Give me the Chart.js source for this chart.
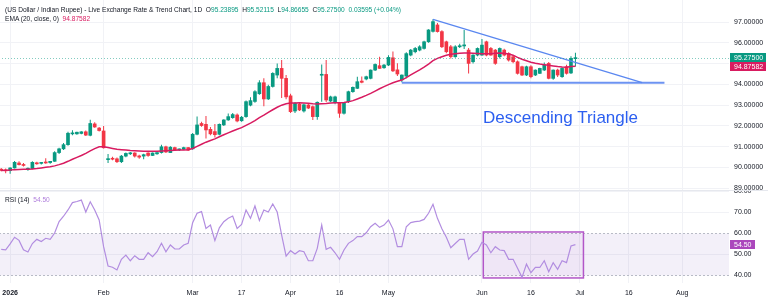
<!DOCTYPE html>
<html>
<head>
<meta charset="utf-8">
<script src="https://cdn.jsdelivr.net/npm/chart.js@4.4.1/dist/chart.umd.min.js"></script>
<style>
  html, body { margin: 0; padding: 0; background: #fff; }
  body { width: 768px; height: 303px; position: relative; overflow: hidden;
         font-family: "Liberation Sans", Arial, sans-serif; color: #131722; }
  .pane { position: absolute; left: -1px; width: 769px; }
  #mainPane { top: 0; height: 190px; }
  #rsiPane { top: 190px; height: 113px; }
  .sep { position: absolute; left: 0; top: 190px; width: 768px; height: 1px; background: #e6e8ee; }
  .legend { position: absolute; left: 5px; font-size: 6.6px; line-height: 9px; white-space: nowrap; }
  .up { color: #089981; }
  .ema { color: #d81b60; }
  .rsi { color: #b07fdc; }
  #pattern { position: absolute; left: 483px; top: 108px; font-size: 17px; line-height: 20px;
             color: #2c5ff0; white-space: nowrap; }
</style>
</head>
<body>
<div class="pane" id="mainPane"><canvas id="mainChart"></canvas></div>
<div class="pane" id="rsiPane"><canvas id="rsiChart"></canvas></div>
<div class="sep"></div>

<div class="legend" style="top:5px">(US Dollar / Indian Rupee) - Live Exchange Rate &amp; Trend Chart, 1D&nbsp;
  O<span class="up">95.23895</span>&nbsp; H<span class="up">95.52115</span>&nbsp; L<span class="up">94.86655</span>&nbsp; C<span class="up">95.27500</span>&nbsp; <span class="up">0.03595 (+0.04%)</span></div>
<div class="legend" style="top:14px">EMA (20, close, 0)&nbsp; <span class="ema">94.87582</span></div>
<div class="legend" style="top:195px">RSI (14)&nbsp; <span class="rsi">54.50</span></div>
<div id="pattern">Descending Triangle</div>

<script>
// Daily candles, 30 Dec 2025 -> 30 Jun 2026 (one per weekday), then empty future slots
const totalSlots = 164;

const opens = [89.92,89.88,89.85,89.98,90.22,90.15,89.92,89.95,90.22,90.20,
  90.25,90.24,90.30,90.72,90.90,91.10,91.62,91.62,91.64,91.72,
  91.55,92.10,91.90,91.76,90.38,90.44,90.42,90.28,90.55,90.66,
  90.70,90.56,90.55,90.70,90.58,90.66,90.72,91.00,90.72,90.96,
  90.85,90.88,90.96,90.90,91.60,92.12,92.08,91.84,91.73,91.60,
  92.05,92.29,92.40,92.53,92.25,92.45,93.00,93.18,93.55,94.08,
  93.30,93.90,94.45,94.77,94.29,93.45,92.72,93.04,92.72,93.01,
  92.93,92.45,94.44,94.48,93.20,93.12,93.09,92.61,93.17,93.65,
  93.81,94.16,94.26,94.29,94.69,94.90,94.80,94.93,95.28,94.70,
  94.22,94.40,95.41,95.57,95.65,95.73,96.05,96.55,96.86,96.54,
  96.05,95.81,95.33,95.81,95.85,95.65,95.09,95.41,95.41,96.05,
  95.73,95.65,95.33,95.65,95.49,95.33,95.09,94.85,94.45,94.85,
  94.45,94.53,94.69,95.01,94.29,94.69,94.37,94.85,94.55,95.23895];

const highs = [89.98,89.95,90.02,90.32,90.30,90.22,90.00,90.30,90.28,90.27,
  90.45,90.32,90.78,90.95,91.18,91.72,91.80,91.72,91.75,91.78,
  92.30,92.18,91.95,92.00,90.65,90.52,90.48,90.60,90.72,90.75,
  90.74,90.62,90.66,90.74,90.72,90.74,91.10,91.05,91.02,91.00,
  90.92,91.00,90.99,91.66,92.45,92.20,92.48,91.95,92.10,92.12,
  92.32,92.60,92.62,92.60,92.48,93.22,93.38,93.72,94.20,94.30,
  93.98,94.58,95.00,95.17,94.45,93.55,93.15,93.12,93.08,93.08,
  92.98,93.18,94.96,95.17,93.45,93.45,93.15,93.12,93.70,93.90,
  94.37,94.38,94.42,94.72,95.00,95.33,94.98,95.40,95.58,95.02,
  94.48,95.55,95.70,95.80,95.88,96.10,96.65,97.13,96.95,96.60,
  96.10,95.90,95.88,95.95,96.62,95.75,95.45,95.78,96.18,96.10,
  95.80,95.70,95.78,95.72,95.55,95.40,95.15,94.90,94.90,94.92,
  94.72,94.80,95.05,95.08,94.72,94.75,94.82,94.95,95.35,95.52115];

const lows = [89.82,89.72,89.70,89.95,90.10,90.05,89.85,89.92,90.14,90.15,
  90.18,90.18,90.28,90.65,90.85,91.05,91.55,91.58,91.60,91.52,
  91.50,91.92,91.74,90.92,90.22,90.35,90.22,90.22,90.50,90.60,
  90.48,90.42,90.40,90.52,90.55,90.62,90.68,90.70,90.70,90.82,
  90.80,90.84,90.80,90.86,91.55,91.96,91.40,91.55,91.45,91.55,
  92.00,92.25,92.35,92.18,92.20,92.40,92.95,93.12,93.50,92.95,
  93.25,93.85,94.30,93.35,93.28,92.62,92.62,92.72,92.65,92.82,
  92.29,92.30,93.17,93.15,93.15,93.05,92.40,92.55,93.10,93.60,
  93.78,94.05,94.20,94.25,94.65,94.75,94.75,94.88,94.60,94.40,
  94.10,94.30,95.35,95.50,95.60,95.68,96.00,96.50,96.50,95.75,
  95.50,95.25,95.28,95.75,95.70,94.53,95.00,95.35,95.38,95.35,
  95.38,94.95,95.25,95.35,95.10,95.02,94.48,94.40,94.40,94.30,
  94.40,94.50,94.65,94.25,94.22,94.35,94.32,94.48,94.50,94.86655];

const closes = [89.86,89.84,89.98,90.25,90.14,90.10,89.96,90.25,90.18,90.22,
  90.22,90.30,90.72,90.90,91.10,91.65,91.66,91.70,91.72,91.56,
  92.12,91.95,91.78,90.95,90.41,90.40,90.28,90.55,90.68,90.70,
  90.55,90.50,90.62,90.58,90.70,90.72,91.00,90.75,90.98,90.86,
  90.88,90.96,90.84,91.60,92.05,92.02,91.81,91.62,91.58,92.08,
  92.29,92.45,92.55,92.24,92.42,93.17,93.22,93.65,94.08,93.30,
  93.90,94.53,94.77,94.29,93.40,92.69,93.09,92.77,93.02,92.86,
  92.45,93.14,94.48,93.25,93.40,93.40,92.61,93.09,93.65,93.86,
  94.13,94.10,94.37,94.69,94.96,94.77,94.93,95.30,94.65,94.50,
  94.45,95.48,95.65,95.73,95.81,96.05,96.62,97.02,96.54,95.81,
  95.57,95.33,95.81,95.86,95.90,95.01,95.41,95.73,95.89,95.41,
  95.41,95.01,95.73,95.41,95.17,95.09,94.53,94.45,94.85,94.37,
  94.69,94.77,94.93,94.29,94.69,94.45,94.77,94.53,95.25,95.275];

const ema20 = [89.86,89.87,89.88,89.90,89.91,89.92,89.92,89.93,89.95,89.98,
  90.01,90.04,90.08,90.14,90.21,90.30,90.40,90.49,90.58,90.68,
  90.80,90.91,91.00,91.00,90.96,90.92,90.88,90.86,90.84,90.82,
  90.81,90.80,90.79,90.78,90.78,90.78,90.80,90.81,90.82,90.83,
  90.84,90.85,90.86,90.92,91.02,91.12,91.22,91.30,91.38,91.48,
  91.58,91.67,91.76,91.84,91.92,92.03,92.14,92.26,92.40,92.52,
  92.65,92.78,92.90,93.00,93.07,93.10,93.11,93.12,93.11,93.09,
  93.07,93.06,93.07,93.08,93.10,93.12,93.12,93.13,93.16,93.22,
  93.30,93.38,93.47,93.57,93.68,93.79,93.89,93.99,94.08,94.15,
  94.21,94.33,94.46,94.58,94.70,94.83,94.98,95.14,95.25,95.33,
  95.40,95.45,95.48,95.50,95.51,95.51,95.50,95.49,95.47,95.47,
  95.48,95.50,95.51,95.50,95.46,95.40,95.30,95.21,95.14,95.07,
  95.02,94.98,94.95,94.92,94.89,94.86,94.84,94.83,94.86,94.87582];

const rsi14 = [52.2,52.0,54.8,58.0,56.5,52.0,51.0,55.0,57.0,56.0,
  57.5,57.0,60.0,65.5,68.0,71.0,74.5,75.0,75.7,70.0,
  74.9,71.0,66.2,53.5,44.3,43.7,42.4,47.5,49.5,46.8,
  49.2,47.5,47.5,50.6,48.7,51.1,55.1,51.1,54.3,52.4,
  52.4,54.3,55.1,64.9,69.4,70.2,62.2,63.8,56.4,62.5,
  65.4,67.0,68.1,62.2,64.1,71.0,67.0,72.9,66.0,71.0,
  70.0,73.8,70.0,59.0,49.0,51.6,50.0,51.6,51.1,46.8,
  46.8,52.7,63.8,52.2,53.2,50.6,47.5,51.9,55.1,56.4,
  58.3,58.3,60.1,63.0,64.6,62.7,63.8,66.2,62.0,53.5,
  53.5,63.0,65.0,65.4,65.7,66.5,69.4,73.7,67.0,62.0,
  58.0,53.0,55.0,57.0,57.0,47.5,50.0,51.4,55.6,54.3,
  50.6,53.5,51.9,51.6,47.5,47.5,43.2,38.9,45.2,41.1,
  43.6,43.6,46.8,41.6,45.9,42.7,46.8,45.9,53.8,54.5];

// time axis labels (slot index -> text)
const tickIdx  = [2, 23, 43, 54, 65, 76, 87, 108, 119, 130, 141, 153];
const tickText = ['2026', 'Feb', 'Mar', '17', 'Apr', '16', 'May', 'Jun', '16', 'Jul', '16', 'Aug'];
const priceTicks = [89, 90, 91, 92, 93, 94, 95, 96, 97];
const rsiTicks = [40, 50, 60, 70, 80];

// drawings
const descIdx = [97, 144];
const descVal = [97.13, 94.08];
const supIdx = [90, 149];
const supVal = [94.08, 94.08];
const boxIdx = [108.3, 130.8];
const boxVal = [60.5, 38.6];

const lastPrice = 95.275;
const lastEma = 94.87582;
const lastRsi = 54.5;

const UP = '#089981', DOWN = '#f23645';
const slots = Array.from({ length: totalSlots }, (_, i) => i);
const candleColors = closes.map((c, i) => c >= opens[i] ? UP : DOWN);
const bodies = opens.map((o, i) => [Math.min(o, closes[i]), Math.max(o, closes[i])]);
const wicks = lows.map((l, i) => [l, highs[i]]);

Chart.defaults.font.family = '"Liberation Sans", Arial, sans-serif';
Chart.defaults.color = '#131722';

const GRID = '#f1f2f6';

function xScale(showTicks) {
  return {
    offset: true,
    grid: { offset: false, drawTicks: false,
            color: c => tickIdx.includes(c.index) ? GRID : 'transparent' },
    border: { display: false },
    ticks: {
      display: showTicks, autoSkip: false, maxRotation: 0, padding: 6,
      font: c => ({ size: 7, weight: c.index === tickIdx[0] ? 'bold' : 'normal' }),
      callback: (v, i) => { const k = tickIdx.indexOf(i); return k >= 0 ? tickText[k] : ''; }
    },
    afterFit: s => { s.height = showTicks ? 20 : 0; s.paddingLeft = 0; s.paddingRight = 0; }
  };
}

function tag(ctx, x, top, w, text, color) {
  ctx.fillStyle = color;
  ctx.fillRect(x, top, w, 9);
  ctx.fillStyle = '#fff';
  ctx.font = '7px "Liberation Sans", Arial, sans-serif';
  ctx.textBaseline = 'middle';
  ctx.textAlign = 'left';
  ctx.fillText(text, x + 4, top + 5);
}

const mainExtras = {
  id: 'mainExtras',
  afterDatasetsDraw(chart) {
    const { ctx, chartArea: a, scales: { y } } = chart;
    const py = Math.round(y.getPixelForValue(lastPrice)) + 0.5;
    ctx.save();
    ctx.strokeStyle = 'rgba(8,153,129,0.5)';
    ctx.lineWidth = 1;
    ctx.setLineDash([1, 2]);
    ctx.beginPath(); ctx.moveTo(a.left, py); ctx.lineTo(a.right, py); ctx.stroke();
    ctx.restore();
  },
  afterDraw(chart) {
    const { ctx, chartArea: a, scales: { y } } = chart;
    const gTop = Math.round(y.getPixelForValue(lastPrice)) - 5;
    const eTop = Math.max(Math.round(y.getPixelForValue(lastEma)) - 5, gTop + 9);
    tag(ctx, a.right + 1, eTop, 36, lastEma.toFixed(5), '#d81b60');
    tag(ctx, a.right + 1, gTop, 36, lastPrice.toFixed(5), UP);
  }
};

const rsiExtras = {
  id: 'rsiExtras',
  beforeDatasetsDraw(chart) {
    const { ctx, chartArea: a, scales: { x, y } } = chart;
    const y60 = Math.round(y.getPixelForValue(60)) + 0.5;
    const y40 = Math.round(y.getPixelForValue(40)) + 0.5;
    ctx.save();
    ctx.fillStyle = 'rgba(126,87,194,0.09)';
    ctx.fillRect(a.left, y60, a.right - a.left, y40 - y60);
    ctx.strokeStyle = '#b8bbc6';
    ctx.lineWidth = 1;
    ctx.setLineDash([2, 2]);
    [y60, y40].forEach(v => { ctx.beginPath(); ctx.moveTo(a.left, v); ctx.lineTo(a.right, v); ctx.stroke(); });
    ctx.setLineDash([]);
    const bx0 = x.getPixelForValue(boxIdx[0]), bx1 = x.getPixelForValue(boxIdx[1]);
    const by0 = y.getPixelForValue(boxVal[0]), by1 = y.getPixelForValue(boxVal[1]);
    ctx.fillStyle = 'rgba(156,39,176,0.05)';
    ctx.fillRect(bx0, by0, bx1 - bx0, by1 - by0);
    ctx.strokeStyle = '#b256c8';
    ctx.lineWidth = 1.5;
    ctx.strokeRect(bx0, by0, bx1 - bx0, by1 - by0);
    ctx.restore();
  },
  afterDraw(chart) {
    const { ctx, chartArea: a, scales: { y } } = chart;
    tag(ctx, a.right + 1, Math.round(y.getPixelForValue(lastRsi)) - 5, 25, lastRsi.toFixed(2), '#ab47bc');
  }
};

new Chart(document.getElementById('mainChart'), {
  type: 'bar',
  data: {
    labels: slots,
    datasets: [
      { type: 'line', data: ema20, borderColor: '#d81b60', borderWidth: 1.5, pointRadius: 0, order: 0 },
      { type: 'line', data: descIdx.map((x, k) => ({ x, y: descVal[k] })), borderColor: '#5a87f0',
        borderWidth: 1.3, pointRadius: 0, order: 0 },
      { type: 'line', data: supIdx.map((x, k) => ({ x, y: supVal[k] })), borderColor: '#6d93f2',
        borderWidth: 2, pointRadius: 0, order: 0 },
      { data: wicks, backgroundColor: candleColors, barThickness: 1, grouped: false, inflateAmount: 0, order: 2 },
      { data: bodies, backgroundColor: candleColors, barThickness: 3, grouped: false, minBarLength: 1, order: 1 }
    ]
  },
  options: {
    responsive: true, maintainAspectRatio: false, animation: false,
    layout: { padding: 0 },
    plugins: { legend: { display: false }, tooltip: { enabled: false } },
    scales: {
      x: xScale(false),
      y: {
        position: 'right', min: 88.92, max: 98.06,
        afterBuildTicks: s => { s.ticks = priceTicks.map(v => ({ value: v })); },
        afterFit: s => { s.width = 39; s.paddingTop = 0; s.paddingBottom = 0; },
        ticks: { font: { size: 7 }, padding: 5, callback: v => Number(v).toFixed(5) },
        grid: { color: GRID, drawTicks: false },
        border: { display: false }
      }
    }
  },
  plugins: [mainExtras]
});

new Chart(document.getElementById('rsiChart'), {
  type: 'line',
  data: {
    labels: slots,
    datasets: [
      { data: rsi14, borderColor: '#b28de0', borderWidth: 1.2, pointRadius: 0 }
    ]
  },
  options: {
    responsive: true, maintainAspectRatio: false, animation: false,
    layout: { padding: 0 },
    plugins: { legend: { display: false }, tooltip: { enabled: false } },
    scales: {
      x: xScale(true),
      y: {
        position: 'right', min: 36.2, max: 80.5,
        afterBuildTicks: s => { s.ticks = rsiTicks.map(v => ({ value: v })); },
        afterFit: s => { s.width = 39; s.paddingTop = 0; s.paddingBottom = 0; },
        ticks: { font: { size: 7 }, padding: 5, callback: v => Number(v).toFixed(2) },
        grid: { color: c => (c.tick && (c.tick.value === 60 || c.tick.value === 40)) ? 'transparent' : GRID, drawTicks: false },
        border: { display: false }
      }
    }
  },
  plugins: [rsiExtras]
});
</script>
</body>
</html>
